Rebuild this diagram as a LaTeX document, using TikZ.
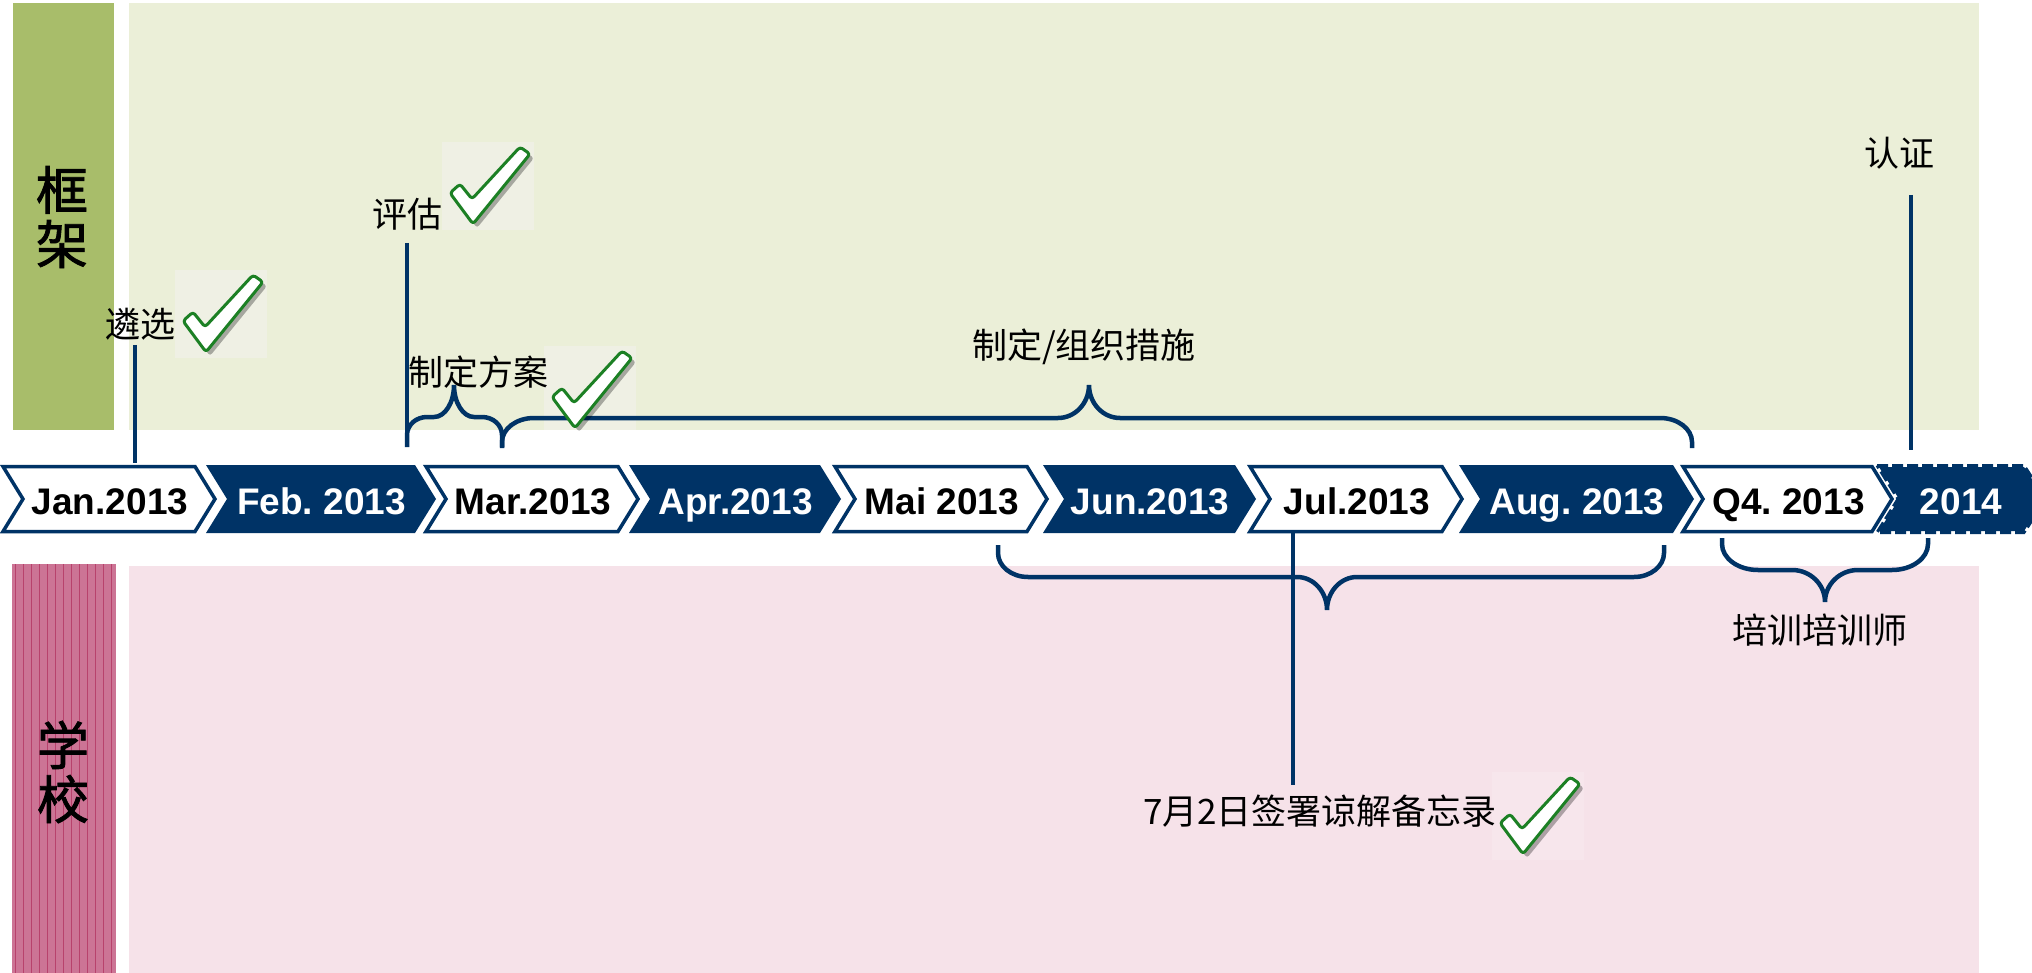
\documentclass[tikz,border=0pt]{standalone}
\usepackage{fontspec}
\newfontfamily\cjk{Noto Sans CJK SC}
\newfontfamily\cjkb{Noto Sans CJK SC}[FakeBold=1.6]
\newfontfamily\lab{Liberation Sans}
\frenchspacing
\definecolor{navy}{RGB}{0,51,102}
\definecolor{gpanel}{RGB}{235,239,216}
\definecolor{gbar}{RGB}{168,189,106}
\definecolor{ppanel}{RGB}{246,226,233}
\definecolor{pbar}{RGB}{204,116,149}
\definecolor{pstripe}{RGB}{184,66,108}
\definecolor{gbox}{RGB}{239,240,228}
\definecolor{pbox}{RGB}{247,230,236}
\definecolor{chkgreen}{RGB}{28,128,36}

\tikzset{
  conn/.style={navy, line width=4.5pt},
  chevtext/.style={font=\lab\bfseries\fontsize{37}{44}\selectfont, text height=27pt, text depth=0pt, inner sep=0pt},
  cjklab/.style={font=\cjk\fontsize{35}{40}\selectfont, inner sep=0pt, text=black},
  biglab/.style={font=\cjkb\fontsize{52}{54}\selectfont, align=center, inner sep=0pt, text=black},
}

% white chevron: L R name text
\newcommand\chevW[4]{%
  \draw[navy, line width=3.5pt, fill=white, line join=miter]
    (#1,466.5) -- (#2,466.5) -- ({#2+20},499) -- (#2,531.5) -- (#1,531.5) -- ({#1+20},499) -- cycle;
  \node[chevtext, text=black] (#3) at ({(#1+#2)/2+11},500.5) {#4};}
% blue chevron
\newcommand\chevB[4]{%
  \fill[navy] (#1,465) -- (#2,465) -- ({#2+21},499) -- (#2,533) -- (#1,533) -- ({#1+21},499) -- cycle;
  \node[chevtext, text=white] (#3) at ({(#1+#2)/2+11},500.5) {#4};}

% brace: x0 x1 xc yb yh yp rcx rcy rp
\newcommand\tbrace[9]{%
  \pgfmathsetmacro\byc{#4>#5 ? #5+#8 : #5-#8}%
  \pgfmathsetmacro\bycc{#4>#5 ? #5+0.448*#8 : #5-0.448*#8}%
  \pgfmathsetmacro\bypc{#6+0.552*(#5-#6)}%
  \draw[conn] (#1,#4) -- (#1,\byc) .. controls (#1,\bycc) and ({#1+0.448*#7},#5) .. ({#1+#7},#5)
    -- ({#3-#9},#5) .. controls ({#3-0.448*#9},#5) and (#3,\bypc) .. (#3,#6)
    .. controls (#3,\bypc) and ({#3+0.448*#9},#5) .. ({#3+#9},#5)
    -- ({#2-#7},#5) .. controls ({#2-0.448*#7},#5) and (#2,\bycc) .. (#2,\byc) -- (#2,#4);}

% check background box: x y color height
\newcommand\chkbox[4]{\fill[#3] (#1,#2) rectangle ({#1+92},{#2+#4});}
% check mark at box origin
\newcommand\chkmark[2]{%
  \begin{scope}[shift={(#1,#2)}]
    \fill[black, opacity=.3, rounded corners=3pt] (12,55) -- (22,46) -- (34,61) -- (82,9) -- (92,16) -- (35,86) -- cycle;
    \draw[chkgreen, line width=3pt, fill=white, rounded corners=3pt, line join=round]
      (8,51) -- (18,42) -- (30,57) -- (78,5) -- (88,12) -- (31,82) -- cycle;
  \end{scope}}

\begin{document}
\begin{tikzpicture}[x=1pt,y=-1pt]
\useasboundingbox (0,0) rectangle (2032,973);
\clip (0,0) rectangle (2032,973);
\fill[white] (0,0) rectangle (2032,973);

% panels
\fill[gbar] (13,3) rectangle (114,430);
\fill[gpanel] (129,3) rectangle (1979,430);
\fill[pbar] (12,564) rectangle (116,973);
\foreach \sx in {15,23,...,112} \draw[pstripe, line width=1pt] (\sx,564) -- (\sx,973);
\fill[ppanel] (129,566) rectangle (1979,973);

% check backgrounds
\chkbox{175}{270}{gbox}{88}
\chkbox{442}{142}{gbox}{88}
\chkbox{544}{346}{gbox}{84}
\chkbox{1492}{772}{pbox}{88}

% connectors
\coordinate (a1) at (135,345); \coordinate (a2) at (135,463);
\draw[conn] (a1) -- (a2);
\coordinate (b1) at (407,243); \coordinate (b2) at (407,447);
\draw[conn] (b1) -- (b2);
\coordinate (c1) at (1911,195); \coordinate (c2) at (1911,450);
\draw[conn] (c1) -- (c2);
\coordinate (d1) at (1293,533); \coordinate (d2) at (1293,785);
\draw[conn] (d1) -- (d2);

% braces
\tbrace{407}{502}{454}{447}{417}{385}{20}{18}{20}
\tbrace{502}{1692}{1089}{448}{418}{385}{32}{24}{31}
\tbrace{998}{1664}{1327}{545}{577}{610}{30}{24}{30}
\tbrace{1722}{1928}{1825}{538}{570}{602}{36}{26}{33}

% chevrons
\chevW{3}{195}{jan}{Jan.2013}
\chevB{206}{415}{feb}{Feb. 2013}
\chevW{426}{618}{mar}{Mar.2013}
\chevB{629}{820}{apr}{Apr.2013}
\chevW{835}{1027}{mai}{Mai 2013}
\chevB{1043}{1235}{jun}{Jun.2013}
\chevW{1250}{1442}{jul}{Jul.2013}
\chevB{1459}{1673}{aug}{Aug. 2013}
\chevW{1683}{1872}{qfour}{Q4. 2013}
\fill[navy] (1879,467) -- (2024,467) -- (2045,499) -- (2024,531) -- (1879,531) -- (1899,499) -- cycle;
\draw[navy, line width=3pt, dash pattern=on 11pt off 4pt] (1877,465.5) -- (2024,465.5) -- (2046,499) -- (2024,532.5) -- (1877,532.5) -- (1898,499) -- cycle;
\node[chevtext, text=white] (y2014) at (1961,500.5) {2014};

% side labels
\node[biglab] (kj) at (62,217) {框\\架};
\node[biglab] (xx) at (63,772) {学\\校};

% labels
\node[cjklab] (t1) at (140,324) {遴选};
\node[cjklab] (t2) at (407,214) {评估};
\node[cjklab] (t3) at (478,372) {制定方案};
\node[cjklab] (t4) at (1084,347) {制定/组织措施};
\node[cjklab] (t5) at (1899,153) {认证};
\node[cjklab] (t6) at (1820,630) {培训培训师};
\node[cjklab] (t7) at (1320,811) {7月2日签署谅解备忘录};

% check marks
\chkmark{175}{270}
\chkmark{442}{142}
\chkmark{544}{346}
\chkmark{1492}{772}
\end{tikzpicture}
\end{document}
